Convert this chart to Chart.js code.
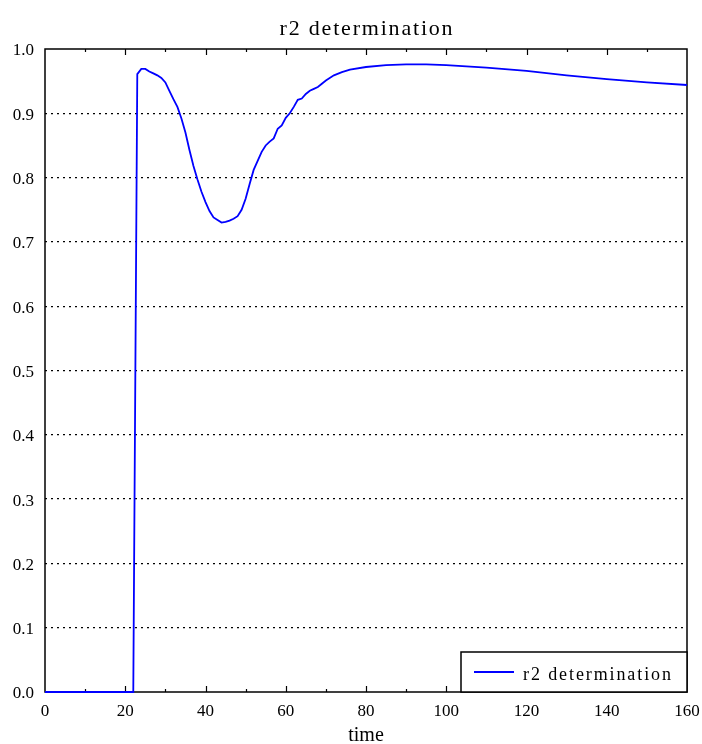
<!DOCTYPE html>
<html>
<head>
<meta charset="utf-8">
<script src="https://cdn.jsdelivr.net/npm/chart.js@4/dist/chart.umd.min.js"></script>
<style>
  html, body { margin: 0; padding: 0; background: #fff; }
  #wrap { width: 702px; height: 744px; }
</style>
</head>
<body>
<div id="wrap"><canvas id="chart-r2" width="702" height="744"></canvas></div>
<script>
// data
var time = [0, 22, 23, 24, 25, 26, 27, 28, 29, 30, 31, 32, 33, 34, 35, 36, 37, 38, 39, 40,
    41, 42, 43, 44, 45, 46, 47, 48, 49, 50, 51, 52, 53, 54, 55, 56, 57, 58, 59, 60,
    61, 62, 63, 64, 65, 66, 67, 68, 69, 70, 72, 74, 76, 80, 85, 90, 95, 100, 110, 120,
    130, 140, 150, 160];
var r2 = [0, 0, 0.961, 0.969, 0.969, 0.965, 0.962, 0.959, 0.955, 0.948, 0.935, 0.922, 0.910, 0.892, 0.870, 0.843, 0.818, 0.797, 0.778, 0.762,
    0.748, 0.738, 0.734, 0.730, 0.731, 0.733, 0.736, 0.740, 0.750, 0.767, 0.790, 0.812, 0.826, 0.840, 0.850, 0.856, 0.861, 0.876, 0.881, 0.893,
    0.900, 0.910, 0.921, 0.923, 0.930, 0.935, 0.938, 0.941, 0.946, 0.951, 0.959, 0.964, 0.968, 0.972, 0.975, 0.976, 0.976, 0.975, 0.971, 0.966,
    0.959, 0.953, 0.948, 0.944];
var xTicks = [0, 20, 40, 60, 80, 100, 120, 140, 160];
var yTicks = [0, 0.1, 0.2, 0.3, 0.4, 0.5, 0.6, 0.7, 0.8, 0.9, 1.0];

var seriesName = "r2 determination";
var chartTitle = "r2 determination";
var serif = "'Liberation Serif', 'DejaVu Serif', serif";

var points = time.map(function(t, i) { return { x: t, y: r2[i] }; });

// frame + inside tick marks
var framePlugin = {
    id: "frame",
    beforeDatasetsDraw: function(chart) {
        var c = chart.ctx, a = chart.chartArea, xs = chart.scales.x;
        c.save();
        c.strokeStyle = "#000";
        c.lineWidth = 1.5;
        c.strokeRect(a.left, a.top, a.right - a.left, a.bottom - a.top);
        c.lineWidth = 1.2;
        for (var t = 10; t < 160; t += 10) {
            var px = Math.round(xs.getPixelForValue(t)) + 0.5;
            var len = (t % 20 === 0) ? 6 : 3;
            c.beginPath();
            c.moveTo(px, a.bottom); c.lineTo(px, a.bottom - len);
            c.moveTo(px, a.top); c.lineTo(px, a.top + len);
            c.stroke();
        }
        c.restore();
    }
};

// title + legend box in the lower right corner
var textPlugin = {
    id: "boxLegend",
    afterDraw: function(chart) {
        var c = chart.ctx, a = chart.chartArea;
        c.save();
        // title
        c.fillStyle = "#000";
        c.font = "22px " + serif;
        c.letterSpacing = "1.8px";
        c.textAlign = "center";
        c.textBaseline = "alphabetic";
        c.fillText(chartTitle, (a.left + a.right) / 2 + 1, 35);

        // legend
        var w = 226, h = 40;
        var x0 = a.right - w, y0 = a.bottom - h;
        c.fillStyle = "#fff";
        c.fillRect(x0, y0, w, h);
        c.strokeStyle = "#000";
        c.lineWidth = 1.5;
        c.strokeRect(x0, y0, w, h);
        c.strokeStyle = "#0000ff";
        c.lineWidth = 1.8;
        c.beginPath();
        c.moveTo(x0 + 13, y0 + 20); c.lineTo(x0 + 53, y0 + 20);
        c.stroke();
        c.fillStyle = "#000";
        c.font = "18px " + serif;
        c.letterSpacing = "1.9px";
        c.textAlign = "left";
        c.fillText(seriesName, x0 + 62, y0 + 28);
        c.restore();
    }
};

new Chart(document.getElementById("chart-r2").getContext("2d"), {
    type: "line",
    data: {
        datasets: [{
            label: seriesName,
            data: points,
            borderColor: "#0000ff",
            borderWidth: 1.8,
            pointRadius: 0,
            tension: 0,
            fill: false,
            clip: false
        }]
    },
    options: {
        responsive: false,
        animation: false,
        layout: { padding: { left: 0, right: 15, top: 49, bottom: 0 } },
        plugins: {
            legend: { display: false },
            tooltip: { enabled: false },
            title: { display: false }
        },
        scales: {
            x: {
                type: "linear",
                min: 0,
                max: 160,
                afterBuildTicks: function(s) { s.ticks = xTicks.map(function(v) { return { value: v }; }); },
                afterFit: function(s) { s.height = 52; s.paddingLeft = 0; s.paddingRight = 0; },
                grid: { display: false, drawTicks: false },
                border: { display: false },
                ticks: {
                    padding: 9,
                    color: "#000",
                    font: { family: serif, size: 17 },
                    maxRotation: 0
                },
                title: {
                    display: true,
                    text: "time",
                    color: "#000",
                    font: { family: serif, size: 20 },
                    padding: { top: 0, bottom: -4 }
                }
            },
            y: {
                min: 0,
                max: 1,
                afterBuildTicks: function(s) { s.ticks = yTicks.map(function(v) { return { value: v }; }); },
                afterFit: function(s) { s.width = 45; },
                grid: {
                    drawTicks: false,
                    lineWidth: 1.2,
                    color: function(ctx) {
                        var v = ctx.tick ? ctx.tick.value : 0;
                        return (v > 0.001 && v < 0.999) ? "#000" : "rgba(0,0,0,0)";
                    }
                },
                border: { display: false, dash: [2, 4] },
                ticks: {
                    padding: 11,
                    labelOffset: 2,
                    color: "#000",
                    font: { family: serif, size: 17 },
                    callback: function(v) { return Number(v).toFixed(1); }
                }
            }
        }
    },
    plugins: [framePlugin, textPlugin]
});
</script>
</body>
</html>
